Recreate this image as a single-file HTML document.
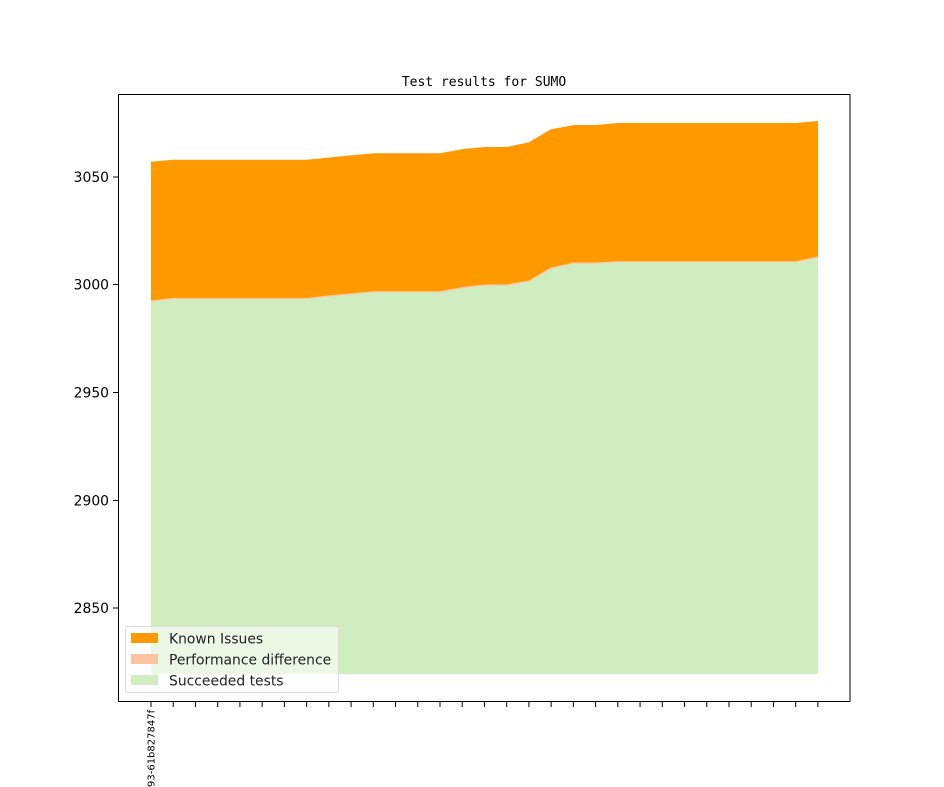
<!DOCTYPE html>
<html><head><style>body{margin:0;background:#fff}svg{display:block}</style></head><body>
<svg width="944" height="787" xmlns="http://www.w3.org/2000/svg" font-family="DejaVu Sans, Liberation Sans, sans-serif">
<rect width="944" height="787" fill="#fff"/>
<text x="484" y="86" text-anchor="middle" font-family="DejaVu Sans Mono, Liberation Mono, monospace" font-size="13">Test results for SUMO</text>
<polygon fill="#ff9900" points="151,161.7 173,159.7 196,159.7 218,159.7 240,159.7 262,159.7 285,159.7 307,159.7 329,157.5 351,155.4 374,153.3 396,153.3 418,153.3 440,153.3 463,149 485,147 507,147 529,142.3 551,129.3 574,125 596,125 618,123 640,123 663,123 685,123 707,123 729,123 752,123 774,123 796,123 818,121 818,257 796,261.7 774,261.7 752,261.7 729,261.7 707,261.7 685,261.7 663,261.7 640,261.7 618,261.7 596,263 574,263 551,268 529,281 507,285 485,285 463,287.5 440,291.7 418,291.7 396,291.7 374,291.7 351,293.8 329,296 307,298.5 285,298.5 262,298.5 240,298.5 218,298.5 196,298.5 173,298.5 151,301"/>
<polygon fill="#d0edc0" stroke="none" points="151,301 173,298.5 196,298.5 218,298.5 240,298.5 262,298.5 285,298.5 307,298.5 329,296 351,293.8 374,291.7 396,291.7 418,291.7 440,291.7 463,287.5 485,285 507,285 529,281 551,268 574,263 596,263 618,261.7 640,261.7 663,261.7 685,261.7 707,261.7 729,261.7 752,261.7 774,261.7 796,261.7 818,257 818,674 151,674"/>
<polyline fill="none" stroke="#fcc3a0" stroke-width="1.2" points="151,301 173,298.5 196,298.5 218,298.5 240,298.5 262,298.5 285,298.5 307,298.5 329,296 351,293.8 374,291.7 396,291.7 418,291.7 440,291.7 463,287.5 485,285 507,285 529,281 551,268 574,263 596,263 618,261.7 640,261.7 663,261.7 685,261.7 707,261.7 729,261.7 752,261.7 774,261.7 796,261.7 818,257"/>
<rect x="118.5" y="94.5" width="731.5" height="607" fill="none" stroke="#000" stroke-width="1"/>
<g font-size="13.9" text-anchor="end">
<line x1="113" x2="118" y1="177" y2="177" stroke="#000"/><text x="109" y="182">3050</text>
<line x1="113" x2="118" y1="284.5" y2="284.5" stroke="#000"/><text x="109" y="289.5">3000</text>
<line x1="113" x2="118" y1="392.5" y2="392.5" stroke="#000"/><text x="109" y="397.5">2950</text>
<line x1="113" x2="118" y1="500.5" y2="500.5" stroke="#000"/><text x="109" y="505.5">2900</text>
<line x1="113" x2="118" y1="608" y2="608" stroke="#000"/><text x="109" y="613">2850</text>
</g>
<g stroke="#000" id="xt"></g>
<script>
var g=document.getElementById('xt');for(var i=0;i<31;i++){var x=151+i*22.23;var l=document.createElementNS('http://www.w3.org/2000/svg','line');l.setAttribute('x1',x);l.setAttribute('x2',x);l.setAttribute('y1',702);l.setAttribute('y2',707);g.appendChild(l);}
</script>
<text transform="translate(154.5,787) rotate(-90)" font-size="10">93-61b827847f</text>
<rect x="125.5" y="626.5" width="213" height="66" rx="2" fill="#fff" fill-opacity="0.6" stroke="#ddd"/>
<rect x="131" y="633" width="27" height="10" fill="#ff9900"/>
<rect x="131" y="654" width="27" height="10" fill="#fcc3a0"/>
<rect x="131" y="675" width="27" height="10" fill="#d0edc0"/>
<g font-size="13.9" fill="#222">
<text x="169" y="643.5">Known Issues</text>
<text x="169" y="664.5">Performance difference</text>
<text x="169" y="685.5">Succeeded tests</text>
</g>
</svg>
</body></html>
